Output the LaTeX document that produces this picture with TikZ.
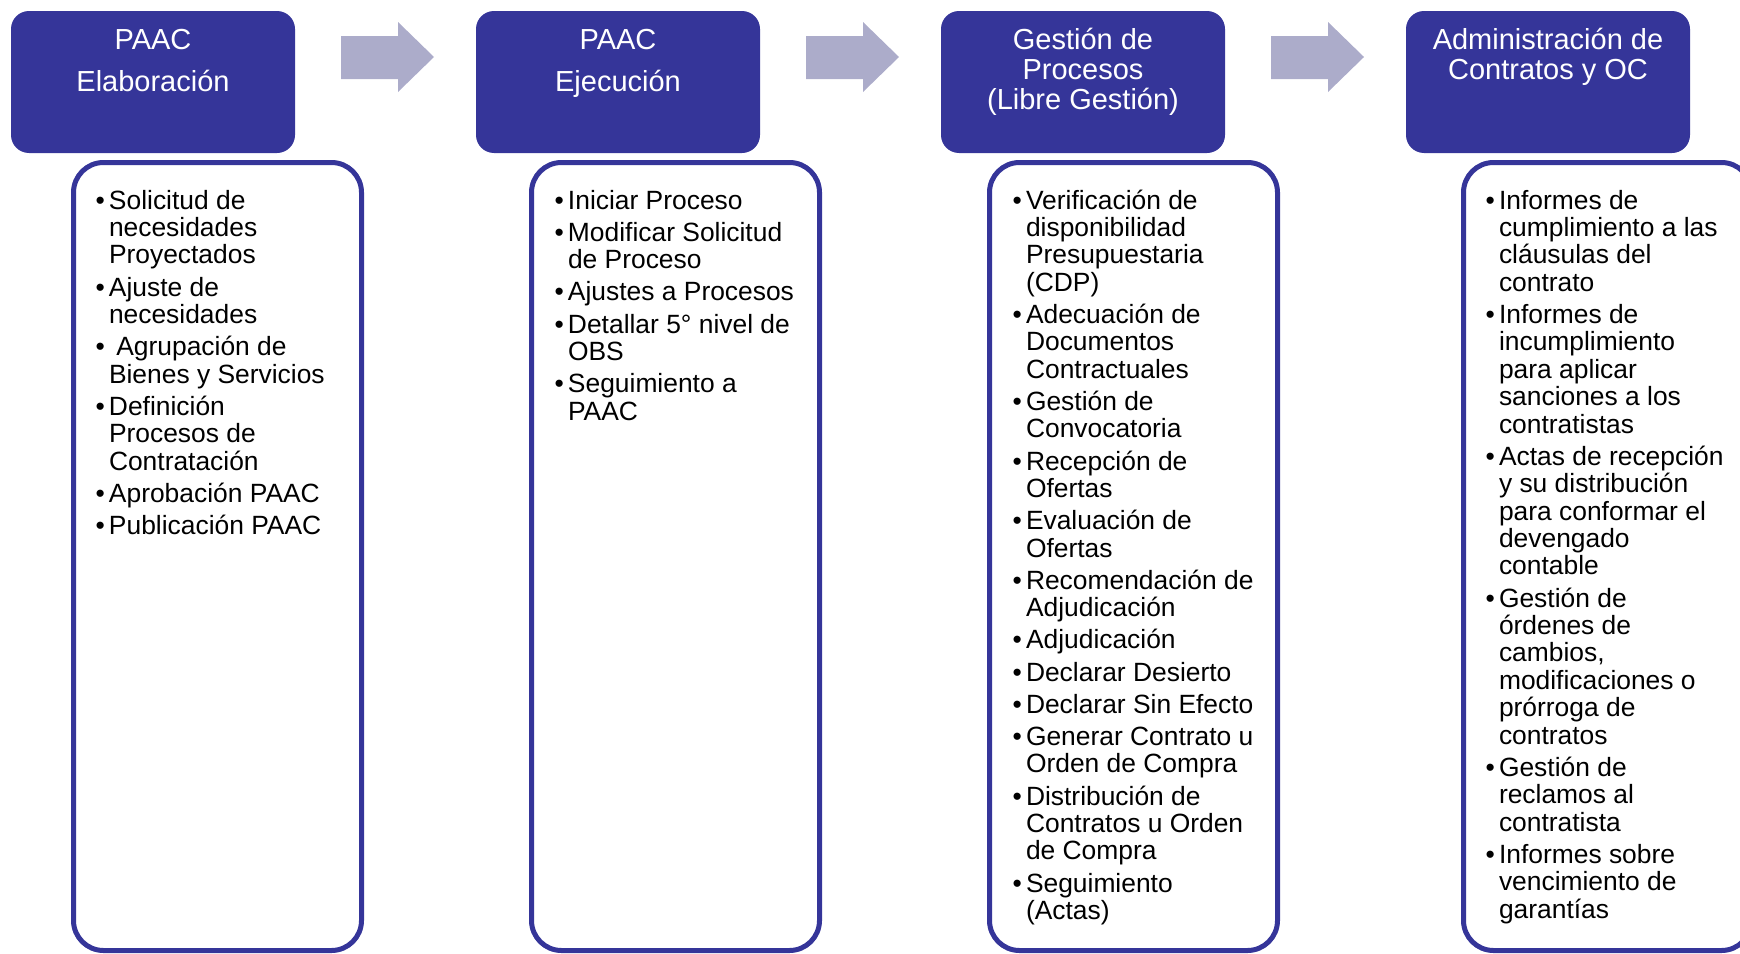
\documentclass[tikz,border=0pt]{standalone}
\usepackage{fontspec}
\setmainfont{Liberation Sans}
\definecolor{hdr}{RGB}{53,53,153}
\definecolor{arw}{RGB}{172,172,202}
\newcommand{\itm}[1]{\par\hangindent=14pt\hangafter=1\noindent\makebox[14pt][l]{\hspace{0.5pt}•}#1}
\newcommand{\bodyfmt}{\fontsize{26.4}{27.4}\selectfont\parskip=4.8pt\relax\lineskiplimit=-100pt\relax\raggedright\let\\\newline}
\newcommand{\htext}[2]{\parbox[t]{280pt}{\centering\fontsize{29}{#1}\selectfont\lineskiplimit=-100pt\relax #2}}
\tikzset{
  hbox/.style={fill=hdr, draw=none, rounded corners=18pt, minimum width=284pt, minimum height=142pt, inner sep=0pt, outer sep=0pt, anchor=north west},
  wbox/.style={fill=white, draw=hdr, line width=5pt, rounded corners=30pt, minimum width=288pt, minimum height=788pt, inner sep=0pt, outer sep=0pt, anchor=north west},
  htxt/.style={anchor=base, inner sep=0pt, outer sep=0pt, text=white},
  btxt/.style={anchor=base west, inner sep=0pt, outer sep=0pt, text=black},
  blockarrow/.style={fill=arw, draw=none}
}
\begin{document}
\begin{tikzpicture}[x=1pt,y=-1pt]
\useasboundingbox (0,0) rectangle (1740,953);
\clip (0,0) rectangle (1740,953);

% header boxes
\node[hbox] (h1) at (11,11) {};
\node[hbox] (h2) at (476,11) {};
\node[hbox] (h3) at (941,11) {};
\node[hbox] (h4) at (1406,11) {};

\node[htxt] (t1) at (153,49) {\htext{42}{PAAC\\Elaboración}};
\node[htxt] (t2) at (618,49) {\htext{42}{PAAC\\Ejecución}};
\node[htxt] (t3) at (1083,49) {\htext{30}{Gestión de\\Procesos\\(Libre Gestión)}};
\node[htxt] (t4) at (1548,49) {\htext{30}{Administración de\\Contratos y OC}};

% block arrows
\foreach \x in {341,806,1271}{
  \fill[blockarrow] (\x,36) -- (\x+57,36) -- (\x+57,22) -- (\x+93,57) -- (\x+57,92) -- (\x+57,79) -- (\x,79) -- cycle;
}

% white boxes
\node[wbox] (b1) at (73.5,162.5) {};
\node[wbox] (b2) at (531.5,162.5) {};
\node[wbox] (b3) at (989.5,162.5) {};
\node[wbox] (b4) at (1463.5,162.5) {};

% body texts
\node[btxt] (l1) at (95,209) {\parbox[t]{260pt}{\bodyfmt
\itm{Solicitud de\\necesidades\\Proyectados}
\itm{Ajuste de\\necesidades}
\itm{\ Agrupación de\\Bienes y Servicios}
\itm{Definición\\Procesos de\\Contratación}
\itm{Aprobación PAAC}
\itm{Publicación PAAC}}};

\node[btxt] (l2) at (554,209) {\parbox[t]{260pt}{\bodyfmt
\itm{Iniciar Proceso}
\itm{Modificar Solicitud\\de Proceso}
\itm{Ajustes a Procesos}
\itm{Detallar 5° nivel de\\OBS}
\itm{Seguimiento a\\PAAC}}};

\node[btxt] (l3) at (1012,209) {\parbox[t]{260pt}{\bodyfmt
\itm{Verificación de\\disponibilidad\\Presupuestaria\\(CDP)}
\itm{Adecuación de\\Documentos\\Contractuales}
\itm{Gestión de\\Convocatoria}
\itm{Recepción de\\Ofertas}
\itm{Evaluación de\\Ofertas}
\itm{Recomendación de\\Adjudicación}
\itm{Adjudicación}
\itm{Declarar Desierto}
\itm{Declarar Sin Efecto}
\itm{Generar Contrato u\\Orden de Compra}
\itm{Distribución de\\Contratos u Orden\\de Compra}
\itm{Seguimiento\\(Actas)}}};

\node[btxt] (l4) at (1485,209) {\parbox[t]{245pt}{\bodyfmt
\itm{Informes de\\cumplimiento a las\\cláusulas del\\contrato}
\itm{Informes de\\incumplimiento\\para aplicar\\sanciones a los\\contratistas}
\itm{Actas de recepción\\y su distribución\\para conformar el\\devengado\\contable}
\itm{Gestión de\\órdenes de\\cambios,\\modificaciones o\\prórroga de\\contratos}
\itm{Gestión de\\reclamos al\\contratista}
\itm{Informes sobre\\vencimiento de\\garantías}}};
\end{tikzpicture}
\end{document}
